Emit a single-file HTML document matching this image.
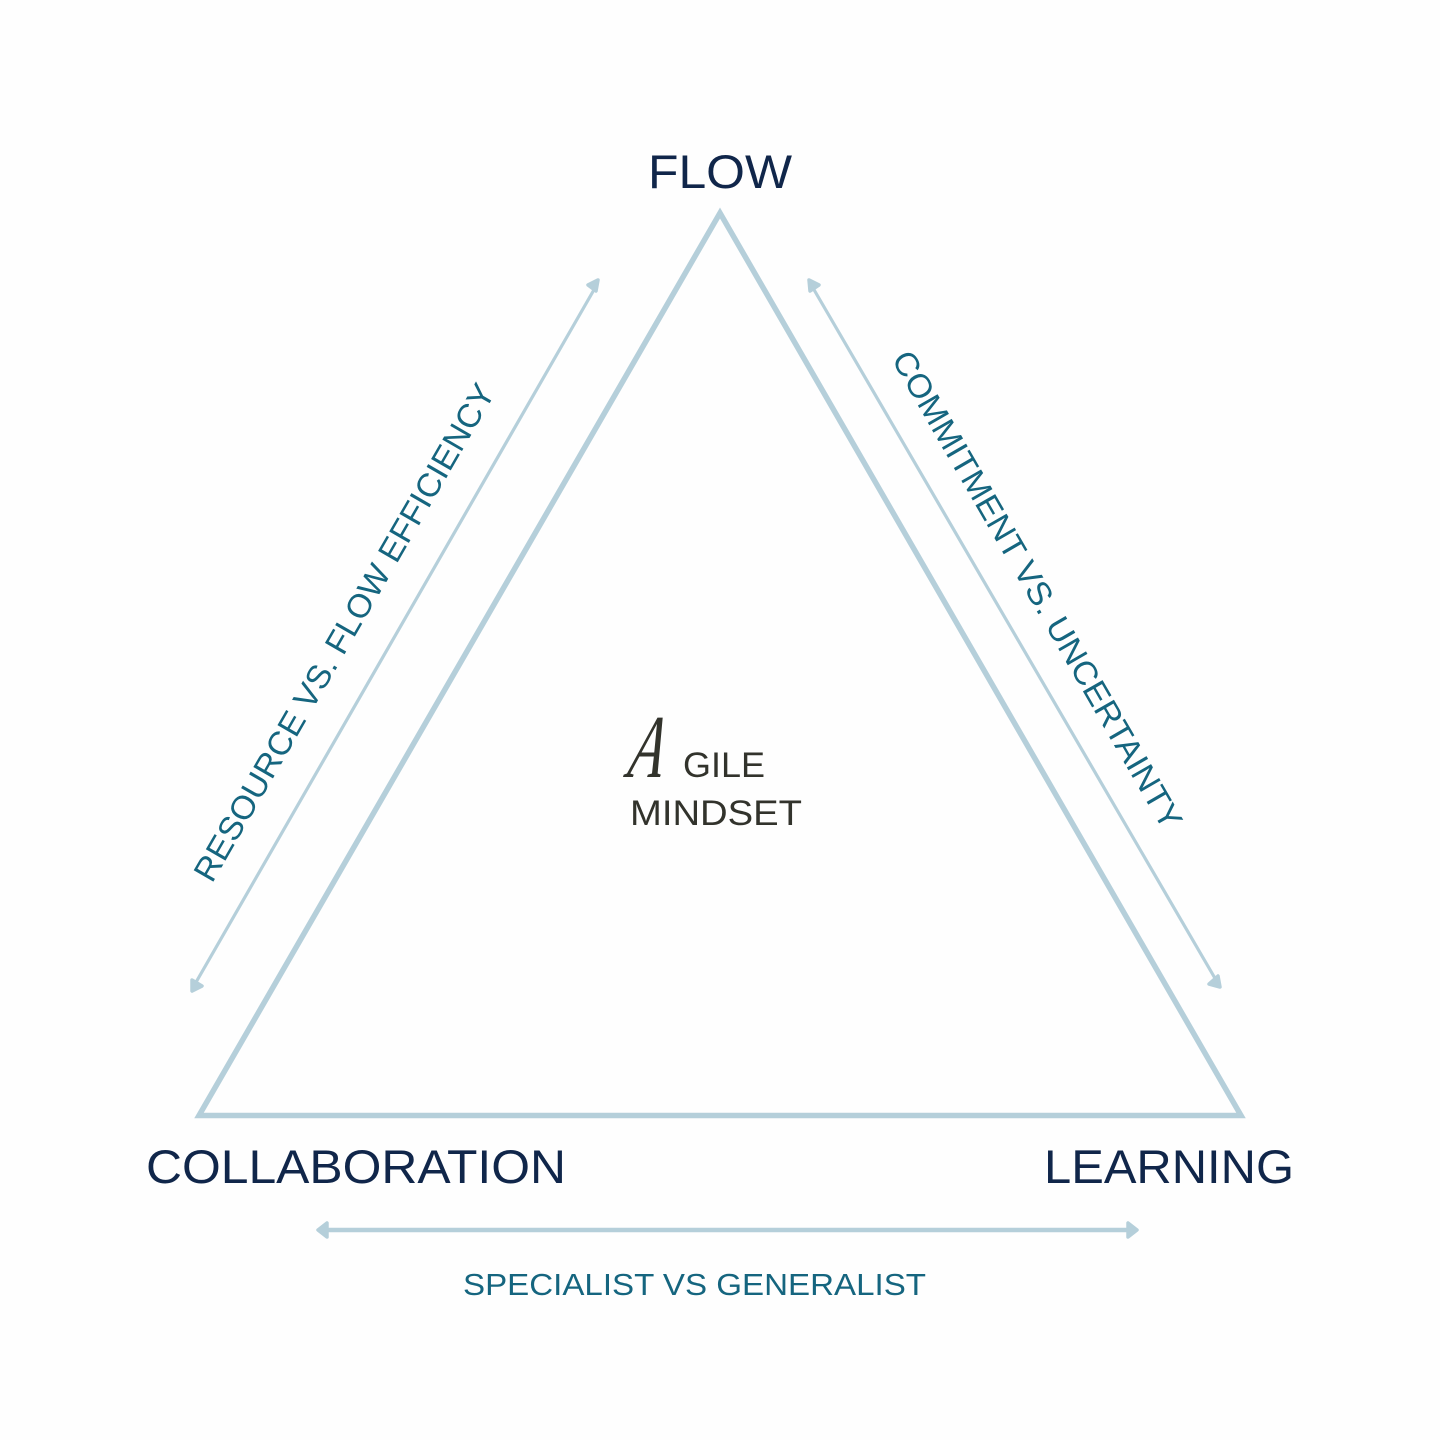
<!DOCTYPE html>
<html><head><meta charset="utf-8"><style>html,body{margin:0;padding:0;background:#fefefe}svg{display:block}text{font-family:"Liberation Sans",sans-serif}</style></head>
<body>
<svg width="1440" height="1440" viewBox="0 0 1440 1440" xmlns="http://www.w3.org/2000/svg">
<rect width="1440" height="1440" fill="#fefefe"/>
<polygon points="720,213 199,1115.5 1241,1115.5" fill="none" stroke="#b5cfda" stroke-width="5.5"/>
<g stroke="#b5cfda" fill="none">
<line x1="195" y1="984" x2="595" y2="288" stroke-width="3.2"/>
<line x1="813" y1="288" x2="1216" y2="980" stroke-width="3.2"/>
<line x1="325" y1="1230" x2="1130" y2="1230" stroke-width="4.5"/>
</g>
<g fill="#b5cfda" stroke="#b5cfda" stroke-width="3.5" stroke-linejoin="round">
<polygon points="598,280 588,285 596,291"/>
<polygon points="192,991 192,980 202,986"/>
<polygon points="809,280 819,285 810,291"/>
<polygon points="1220,987 1209,984 1218,976"/>
<polygon points="318,1230 327,1223 327,1237"/>
<polygon points="1137,1230 1128,1223 1128,1237"/>
</g>
<g fill="#10264a">
<text x="648" y="188" font-size="47" textLength="144" lengthAdjust="spacingAndGlyphs">FLOW</text>
<text x="146" y="1183" font-size="47" textLength="420" lengthAdjust="spacingAndGlyphs">COLLABORATION</text>
<text x="1044" y="1183" font-size="47" textLength="250" lengthAdjust="spacingAndGlyphs">LEARNING</text>
</g>
<g fill="#15657f">
<text x="463" y="1295" font-size="31" textLength="463" lengthAdjust="spacingAndGlyphs">SPECIALIST VS GENERALIST</text>
<text transform="translate(212,884) rotate(-60)" font-size="33" textLength="568" lengthAdjust="spacingAndGlyphs">RESOURCE VS. FLOW EFFICIENCY</text>
<text transform="translate(891,359) rotate(60)" font-size="33" textLength="546" lengthAdjust="spacingAndGlyphs">COMMITMENT VS. UNCERTAINTY</text>
</g>
<g fill="#32332c">
<text x="683" y="777" font-size="35" textLength="82" lengthAdjust="spacingAndGlyphs">GILE</text>
<text x="630" y="825" font-size="35" textLength="172" lengthAdjust="spacingAndGlyphs">MINDSET</text>
<text transform="translate(626,777) skewX(-12) scale(0.62,1)" font-size="90" style="font-family:'Liberation Serif',serif;font-style:italic">A</text>
</g>
</svg>
</body></html>
